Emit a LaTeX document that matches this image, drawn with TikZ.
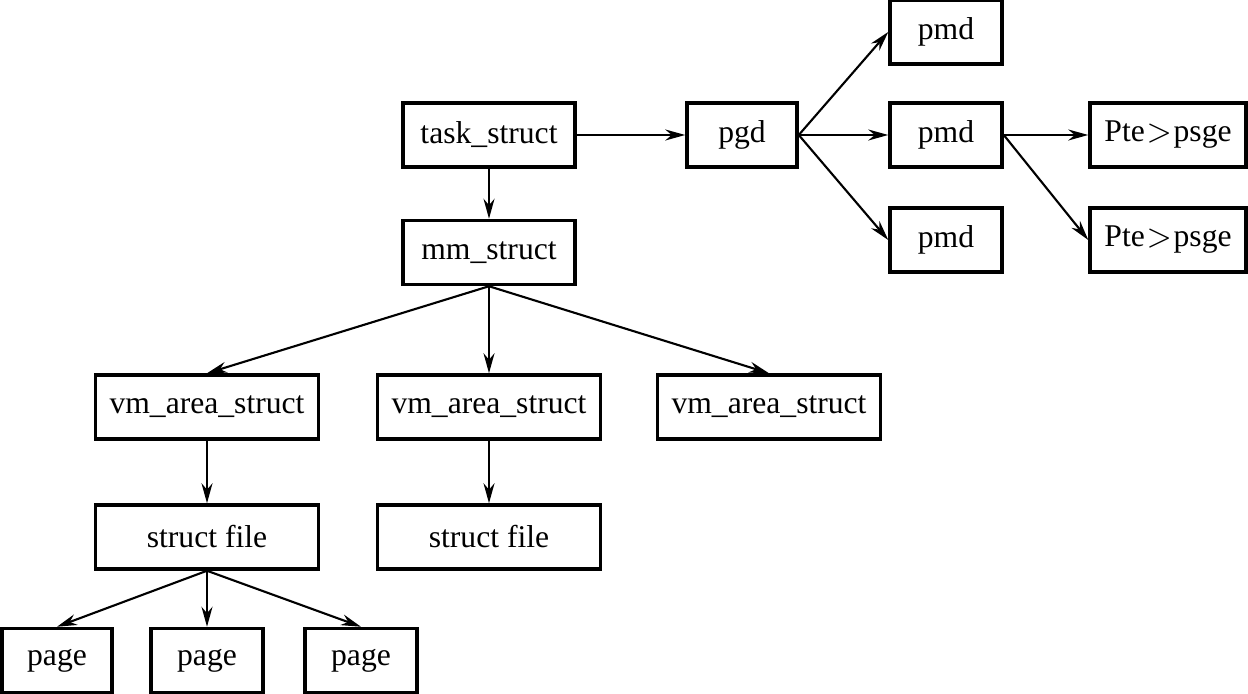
\documentclass[tikz,border=0pt]{standalone}
\usepackage{fontspec}
\setmainfont{Liberation Serif}
\usetikzlibrary{arrows.meta,positioning}

\begin{document}
\begin{tikzpicture}[
    >={Stealth[length=2mm,width=1.1mm]},
    box/.style={draw, line width=1pt, minimum height=0.64cm, inner sep=0pt,
      font=\fontsize{9}{11}\selectfont},
    link/.style={->, line width=0.6pt},
  ]
  \useasboundingbox (0,0) rectangle (12.48,-6.94);

  % Page table side
  \node[box, minimum width=1.72cm] (task) at (4.89,-1.35) {task\_struct};
  \node[box, minimum width=1.10cm] (pgd) at (7.42,-1.35) {pgd};
  \node[box, minimum width=1.12cm] (pmdA) at (9.46,-0.32) {pmd};
  \node[box, minimum width=1.12cm] (pmdB) at (9.46,-1.35) {pmd};
  \node[box, minimum width=1.12cm] (pmdC) at (9.46,-2.40) {pmd};
  \node[box, minimum width=1.56cm] (pteA) at (11.68,-1.35) {Pte\kern0.5pt$>$\kern0.5pt psge};
  \node[box, minimum width=1.56cm] (pteB) at (11.68,-2.40) {Pte\kern0.5pt$>$\kern0.5pt psge};

  % Memory areas
  \node[box, minimum width=1.72cm] (mm) at (4.89,-2.525) {mm\_struct};
  \node[box, minimum width=2.23cm] (vmA) at (2.07,-4.07) {vm\_area\_struct};
  \node[box, minimum width=2.23cm] (vmB) at (4.89,-4.07) {vm\_area\_struct};
  \node[box, minimum width=2.23cm] (vmC) at (7.69,-4.07) {vm\_area\_struct};
  \node[box, minimum width=2.23cm] (fileA) at (2.07,-5.37) {struct file};
  \node[box, minimum width=2.23cm] (fileB) at (4.89,-5.37) {struct file};

  % Pages
  \node[box, minimum width=1.10cm] (pgA) at (0.57,-6.605) {page};
  \node[box, minimum width=1.12cm] (pgB) at (2.07,-6.605) {page};
  \node[box, minimum width=1.12cm] (pgC) at (3.61,-6.605) {page};

  % Arrows
  \draw[link] (task) -- (pgd);
  \foreach \p in {pmdA,pmdB,pmdC} \draw[link] (pgd.east) -- (\p.west);
  \foreach \p in {pteA,pteB} \draw[link] (pmdB.east) -- (\p.west);
  \draw[link] (task) -- (mm);
  \foreach \p in {vmA,vmB,vmC} \draw[link] (mm.south) -- (\p.north);
  \draw[link] (vmA) -- (fileA);
  \draw[link] (vmB) -- (fileB);
  \foreach \p in {pgA,pgB,pgC} \draw[link] (fileA.south) -- (\p.north);
\end{tikzpicture}
\end{document}
